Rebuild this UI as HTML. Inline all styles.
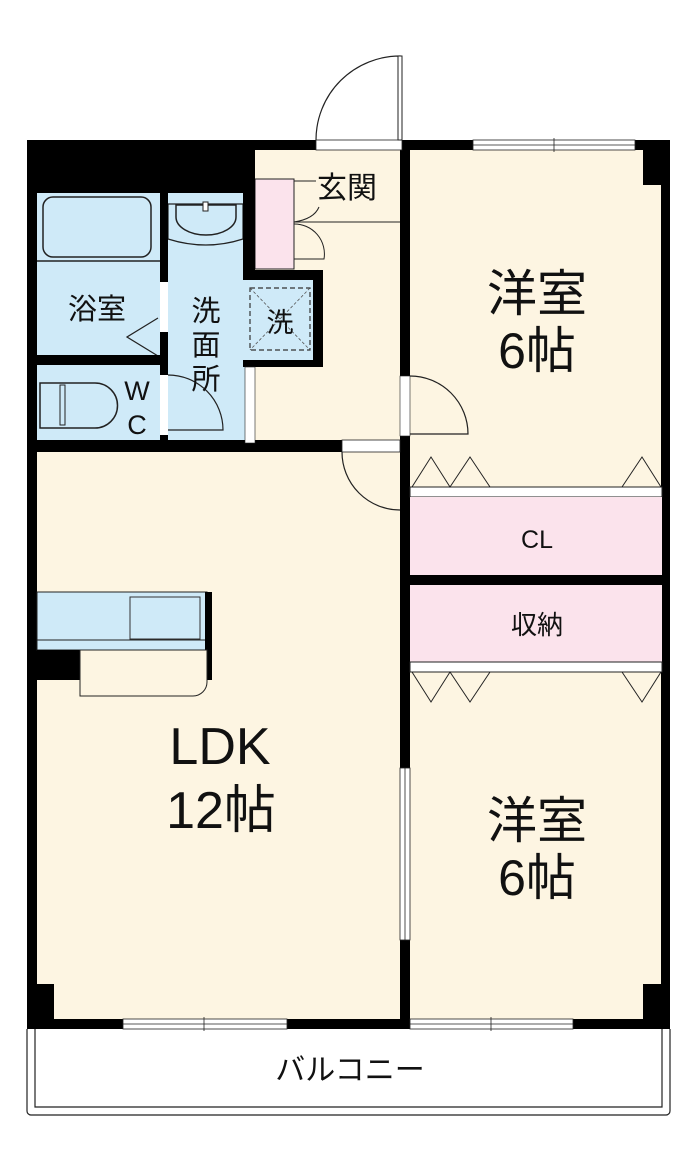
<!DOCTYPE html>
<html><head><meta charset="utf-8"><style>
html,body{margin:0;padding:0;background:#fff;}
svg{display:block;}
text{font-family:"Liberation Sans","Noto Sans CJK JP",sans-serif;fill:#111;}
</style></head><body>
<svg width="700" height="1165" viewBox="0 0 700 1165" xmlns="http://www.w3.org/2000/svg">
<rect x="255" y="148" width="147" height="295" fill="#fdf5e2"/>
<rect x="410" y="148" width="252" height="872" fill="#fdf5e2"/>
<rect x="37" y="450" width="365" height="570" fill="#fdf5e2"/>
<rect x="37" y="193" width="125" height="250" fill="#cfeaf8"/>
<rect x="166" y="193" width="79" height="250" fill="#cfeaf8"/>
<rect x="245" y="280" width="70" height="82" fill="#cfeaf8"/>
<rect x="43" y="197" width="108" height="60" rx="10" fill="#cfeaf8" stroke="#222" stroke-width="1.5"/>
<line x1="37" y1="261" x2="160" y2="261" stroke="#222" stroke-width="1.5"/>
<polyline points="158,318 127,337 158,356" fill="none" stroke="#222" stroke-width="1.2"/>
<path d="M40,383 h55 a22,22 0 0 1 0,45 h-55 z" fill="#cfeaf8" stroke="#222" stroke-width="1.5"/>
<rect x="60" y="385" width="5" height="40" fill="none" stroke="#222" stroke-width="1"/>
<text x="137" y="400" font-size="27" text-anchor="middle">W</text>
<text x="137" y="434" font-size="27" text-anchor="middle">C</text>
<path d="M168,204 h75 v35 q-37,12 -75,0 z" fill="#cfeaf8" stroke="#222" stroke-width="1.2"/>
<path d="M176,205 h60 v12 a30,18 0 0 1 -60,0 z" fill="#cfeaf8" stroke="#222" stroke-width="1.5"/>
<rect x="203" y="202" width="5" height="9" fill="#fff" stroke="#222" stroke-width="1"/>
<rect x="250" y="288" width="60" height="62" fill="none" stroke="#333" stroke-width="1.2" stroke-dasharray="5,3"/>
<line x1="250" y1="288" x2="310" y2="350" stroke="#555" stroke-width="0.8" stroke-dasharray="3,2"/>
<line x1="310" y1="288" x2="250" y2="350" stroke="#555" stroke-width="0.8" stroke-dasharray="3,2"/>
<text x="280" y="332" font-size="27" text-anchor="middle">洗</text>
<path d="M168,375 a55,55 0 0 1 55,55 h-55" fill="none" stroke="#222" stroke-width="1.2"/>
<rect x="255" y="179" width="39" height="90" fill="#fbe3ec" stroke="#222" stroke-width="1"/>
<line x1="294" y1="181" x2="316" y2="181" stroke="#222" stroke-width="1"/>
<path d="M294,222 q20,-3 25,-15" fill="none" stroke="#222" stroke-width="1"/>
<line x1="294" y1="222" x2="402" y2="222" stroke="#222" stroke-width="1"/>
<path d="M294,224 a30,30 0 0 1 30,35 h-30" fill="none" stroke="#222" stroke-width="1"/>
<text x="317" y="198" font-size="30">玄関</text>
<g fill="#000">
<rect x="27" y="140" width="228" height="53"/>
<rect x="255" y="140" width="61" height="10"/>
<rect x="27" y="140" width="10" height="889"/>
<rect x="400" y="140" width="10" height="889"/>
<rect x="410" y="140" width="260" height="10"/>
<rect x="661" y="140" width="9" height="889"/>
<rect x="643" y="140" width="27" height="45"/>
<rect x="160" y="193" width="8" height="250"/>
<rect x="37" y="355" width="131" height="10"/>
<rect x="243" y="193" width="12" height="87"/>
<rect x="243" y="270" width="80" height="10"/>
<rect x="313" y="270" width="10" height="97"/>
<rect x="243" y="360" width="80" height="7"/>
<rect x="27" y="440" width="315" height="12"/>
<rect x="27" y="984" width="27" height="45"/>
<rect x="643" y="984" width="27" height="45"/>
<rect x="27" y="1019" width="643" height="10"/>
<rect x="410" y="575" width="252" height="10"/>
</g>
<rect x="160" y="282" width="8" height="50" fill="#fff"/>
<rect x="160" y="375" width="8" height="60" fill="#fff"/>
<rect x="245" y="367" width="10" height="76" fill="#fff" stroke="#222" stroke-width="0.6"/>
<rect x="400" y="376" width="10" height="60" fill="#fff" stroke="#222" stroke-width="0.6"/>
<rect x="400" y="768" width="10" height="172" fill="#fff" stroke="#222" stroke-width="0.8"/>
<line x1="405" y1="768" x2="405" y2="940" stroke="#222" stroke-width="0.8"/>
<rect x="316" y="140" width="86" height="10" fill="#fff" stroke="#222" stroke-width="0.8"/>
<path d="M400,140 v-84 a84,84 0 0 0 -84,84" fill="none" stroke="#222" stroke-width="1.2"/>
<rect x="398" y="56" width="4" height="84" fill="#fff" stroke="#222" stroke-width="1"/>
<path d="M410,376 a58,58 0 0 1 58,58 h-58" fill="none" stroke="#222" stroke-width="1.2"/>
<rect x="342" y="440" width="58" height="12" fill="#fff" stroke="#222" stroke-width="0.8"/>
<path d="M342,452 a58,58 0 0 0 58,58" fill="none" stroke="#222" stroke-width="1.2"/>
<rect x="473" y="140" width="162" height="10" fill="#fff" stroke="#222" stroke-width="0.8"/>
<line x1="473" y1="145" x2="635" y2="145" stroke="#222" stroke-width="0.8"/>
<line x1="554" y1="138" x2="554" y2="152" stroke="#222" stroke-width="0.8"/>
<rect x="123" y="1019" width="164" height="10" fill="#fff" stroke="#222" stroke-width="0.8"/>
<line x1="123" y1="1024" x2="287" y2="1024" stroke="#222" stroke-width="0.8"/>
<line x1="204" y1="1017" x2="204" y2="1031" stroke="#222" stroke-width="0.8"/>
<rect x="410" y="1019" width="163" height="10" fill="#fff" stroke="#222" stroke-width="0.8"/>
<line x1="410" y1="1024" x2="573" y2="1024" stroke="#222" stroke-width="0.8"/>
<line x1="491" y1="1017" x2="491" y2="1031" stroke="#222" stroke-width="0.8"/>
<rect x="410" y="487" width="252" height="10" fill="#fff" stroke="#222" stroke-width="1"/>
<rect x="410" y="497" width="252" height="78" fill="#fbe3ec"/>
<rect x="410" y="585" width="252" height="77" fill="#fbe3ec"/>
<rect x="410" y="662" width="252" height="10" fill="#fff" stroke="#222" stroke-width="1"/>
<polyline points="412,487 431,457 450,487 470,457 490,487" fill="none" stroke="#222" stroke-width="1"/>
<polyline points="622,487 642,457 661,487" fill="none" stroke="#222" stroke-width="1"/>
<polyline points="412,672 431,702 450,672 470,702 490,672" fill="none" stroke="#222" stroke-width="1"/>
<polyline points="622,672 642,702 661,672" fill="none" stroke="#222" stroke-width="1"/>
<text x="537" y="548" font-size="25" text-anchor="middle">CL</text>
<text x="537" y="634" font-size="26" text-anchor="middle">収納</text>
<rect x="37" y="592" width="170" height="48" fill="#cfeaf8" stroke="#222" stroke-width="1"/>
<rect x="37" y="640" width="170" height="10" fill="#cfeaf8" stroke="#222" stroke-width="1"/>
<rect x="130" y="597" width="70" height="42" fill="#cfeaf8" stroke="#333" stroke-width="1"/>
<rect x="205" y="592" width="7" height="88" fill="#000"/>
<rect x="37" y="650" width="43" height="30" fill="#000"/>
<path d="M80,650 h127 v32 a14,14 0 0 1 -14,14 h-113 z" fill="#fdf5e2" stroke="#222" stroke-width="1"/>
<path d="M27,1029 v82 a4,4 0 0 0 4,4 h635 a4,4 0 0 0 4,-4 v-82" fill="none" stroke="#222" stroke-width="1.2"/>
<path d="M35,1029 v78 h627 v-78" fill="none" stroke="#222" stroke-width="1.2"/>
<text x="350" y="1080" font-size="30" text-anchor="middle">バルコニー</text>
<text x="97" y="319" font-size="29" text-anchor="middle">浴室</text>
<text x="206" y="321" font-size="29" text-anchor="middle">洗</text>
<text x="206" y="355" font-size="29" text-anchor="middle">面</text>
<text x="206" y="389" font-size="29" text-anchor="middle">所</text>
<text x="537" y="311" font-size="50" text-anchor="middle">洋室</text>
<text x="537" y="368" font-size="50" text-anchor="middle">6帖</text>
<text x="537" y="838" font-size="50" text-anchor="middle">洋室</text>
<text x="537" y="895" font-size="50" text-anchor="middle">6帖</text>
<text x="220" y="764" font-size="52" text-anchor="middle">LDK</text>
<text x="221" y="828" font-size="52" text-anchor="middle">12帖</text>
</svg>
</body></html>
